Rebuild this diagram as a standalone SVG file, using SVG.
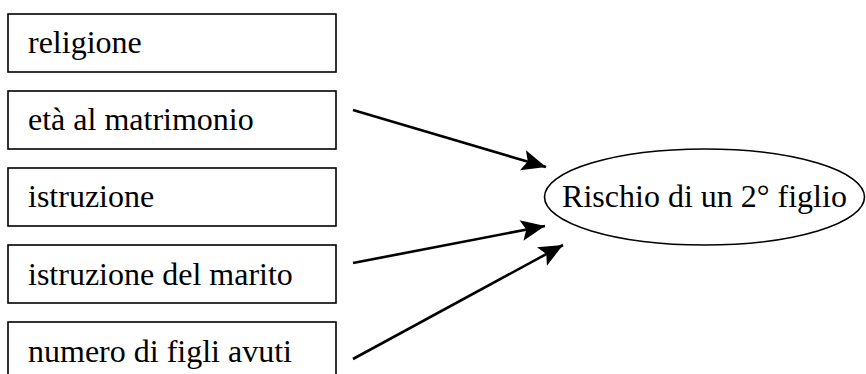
<svg xmlns="http://www.w3.org/2000/svg" width="866" height="374" viewBox="0 0 866 374">
<style>
.box{fill:#fff;stroke:#000;stroke-width:1.6}
.lbl{font-family:"Liberation Serif","Times New Roman",serif;font-size:32px;fill:#000}
.conn{stroke:#000;stroke-width:2.6;fill:none}
</style>
<defs>
<marker id="ah" markerUnits="userSpaceOnUse" markerWidth="26" markerHeight="22" refX="24" refY="10.5" orient="auto">
<path d="M0,0 L24,10.5 L0,21 L5,10.5 Z" fill="#000"/>
</marker>
</defs>
<rect width="866" height="374" fill="#fff"/>
<g id="n-religione"><rect class="box" x="8" y="14" width="328" height="58"/><text class="lbl" x="28" y="53">religione</text></g>
<g id="n-eta"><rect class="box" x="8" y="91" width="328" height="58"/><text class="lbl" x="28" y="130">età al matrimonio</text></g>
<g id="n-istruzione"><rect class="box" x="8" y="168" width="328" height="58"/><text class="lbl" x="28" y="207">istruzione</text></g>
<g id="n-istruzione-marito"><rect class="box" x="8" y="245" width="328" height="58"/><text class="lbl" x="28" y="285">istruzione del marito</text></g>
<g id="n-numero"><rect class="box" x="8" y="322" width="328" height="60"/><text class="lbl" x="28" y="362">numero di figli avuti</text></g>
<g id="n-rischio"><ellipse cx="704.5" cy="197" rx="160" ry="48" fill="#fff" stroke="#000" stroke-width="1.6"/><text class="lbl" x="704.5" y="207" text-anchor="middle">Rischio di un 2° figlio</text></g>
<g id="connectors">
<line class="conn" x1="353" y1="110" x2="546" y2="167" marker-end="url(#ah)"/>
<line class="conn" x1="353" y1="263" x2="545" y2="226" marker-end="url(#ah)"/>
<line class="conn" x1="353" y1="359" x2="563" y2="245" marker-end="url(#ah)"/>
</g>
</svg>
